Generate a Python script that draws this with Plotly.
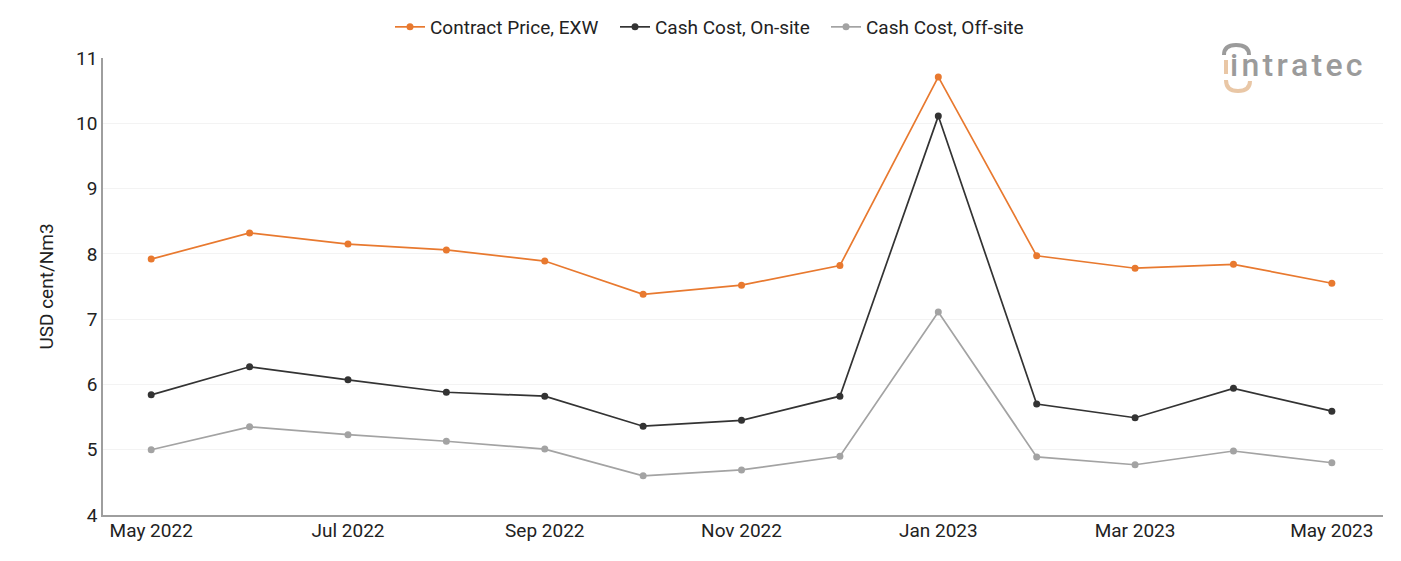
import plotly.graph_objects as go

month_labels = ["May 2022", "Jun 2022", "Jul 2022", "Aug 2022", "Sep 2022", "Oct 2022",
                "Nov 2022", "Dec 2022", "Jan 2023", "Feb 2023", "Mar 2023", "Apr 2023",
                "May 2023"]
contract_price = [7.92, 8.32, 8.15, 8.06, 7.89, 7.38, 7.52, 7.82, 10.71, 7.97, 7.78, 7.84, 7.55]
cash_onsite = [5.84, 6.27, 6.07, 5.88, 5.82, 5.36, 5.45, 5.82, 10.11, 5.70, 5.49, 5.94, 5.59]
cash_offsite = [5.00, 5.35, 5.23, 5.13, 5.01, 4.60, 4.69, 4.90, 7.11, 4.89, 4.77, 4.98, 4.80]

series = [
    ("Contract Price, EXW", contract_price, "#E8792F", "legend", 390),
    ("Cash Cost, On-site", cash_onsite, "#333333", "legend2", 615),
    ("Cash Cost, Off-site", cash_offsite, "#A3A3A3", "legend3", 826),
]

L, R, T, B = 103, 18, 58, 46
W, H = 1401, 561
PW, PH = W - L - R, H - T - B


def px(x):
    return (x - L) / PW


def py(y):
    return (H - B - y) / PH


fig = go.Figure()
legend_layout = {}
for name, vals, color, leg, lx in series:
    fig.add_trace(go.Scatter(
        x=list(range(len(month_labels))), y=vals, name=name, mode="lines+markers",
        line=dict(color=color, width=1.7),
        marker=dict(color=color, size=7),
        text=month_labels, legend=leg,
    ))
    legend_layout[leg] = dict(orientation="h", x=px(lx), xanchor="left", y=py(27),
                              yanchor="middle", font=dict(size=19, color="#222222"),
                              itemwidth=30, bgcolor="rgba(0,0,0,0)")

fig.update_layout(
    width=W, height=H,
    margin=dict(l=L, r=R, t=T, b=B, autoexpand=False),
    paper_bgcolor="white", plot_bgcolor="white",
    font=dict(family="Roboto", size=19, color="#222222"),
    showlegend=True,
    **legend_layout,
)

tick_idx = list(range(0, len(month_labels), 2))
fig.update_xaxes(
    range=[-0.49, 12.52], tickmode="array",
    tickvals=tick_idx, ticktext=[month_labels[i] for i in tick_idx],
    showgrid=False, showline=True, linecolor="#9E9E9E", linewidth=1.5,
    ticks="", tickfont=dict(size=19, color="#222222"), zeroline=False,
    ticklabelstandoff=-3,
)
fig.update_yaxes(
    range=[4, 11], dtick=1, showgrid=True, gridcolor="#F3F3F3", gridwidth=1,
    showline=True, linecolor="#9E9E9E", linewidth=1.5, ticks="",
    tickfont=dict(size=19, color="#222222"), zeroline=False,
    title=dict(text="USD cent/Nm3", font=dict(size=19, color="#222222"), standoff=17),
)

# logo
hair = "\u200a"
fig.add_annotation(
    xref="paper", yref="paper", x=px(1365), y=py(65), xanchor="right", yanchor="middle",
    text=hair.join("intratec"), showarrow=False,
    font=dict(family="Roboto", size=32, color="#9B9B9B", weight=500),
)

top_arc = ("M {:.5f},{:.5f} Q {:.5f},{:.5f} {:.5f},{:.5f} "
           "Q {:.5f},{:.5f} {:.5f},{:.5f}").format(
    px(1224), py(55), px(1224), py(45), px(1236), py(45),
    px(1249), py(45), px(1249), py(55))
stem = "M {:.5f},{:.5f} L {:.5f},{:.5f}".format(px(1226), py(60), px(1226), py(74))
bottom_arc = ("M {:.5f},{:.5f} Q {:.5f},{:.5f} {:.5f},{:.5f} "
              "Q {:.5f},{:.5f} {:.5f},{:.5f}").format(
    px(1226), py(80), px(1226), py(91), px(1238), py(91),
    px(1250), py(91), px(1250), py(81))
fig.add_shape(type="path", xref="paper", yref="paper", path=top_arc,
              line=dict(color="#9B9B9B", width=4))
fig.add_shape(type="path", xref="paper", yref="paper", path=stem,
              line=dict(color="#E9C7A6", width=4))
fig.add_shape(type="path", xref="paper", yref="paper", path=bottom_arc,
              line=dict(color="#E9C7A6", width=4))

fig.write_html("out.html")
